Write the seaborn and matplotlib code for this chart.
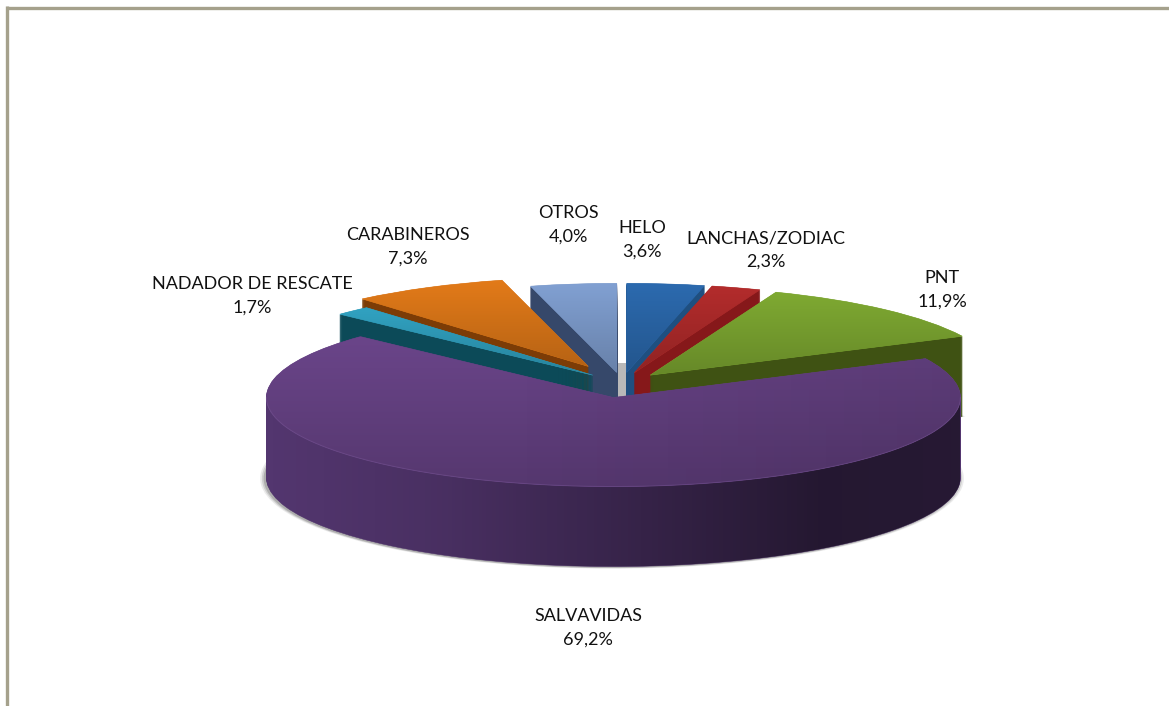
import numpy as np
import matplotlib
matplotlib.use("Agg")
import matplotlib.pyplot as plt
from matplotlib.patches import Polygon, Rectangle
from matplotlib.lines import Line2D
import seaborn as sns

# ---- data ----
categories = ["HELO", "LANCHAS/ZODIAC", "PNT", "SALVAVIDAS",
              "NADADOR DE RESCATE", "CARABINEROS", "OTROS"]
values = [3.6, 2.3, 11.9, 69.2, 1.7, 7.3, 4.0]
explode = [0.12, 0.12, 0.12, 0.165, 0.122, 0.21, 0.12]
top_hex = ["#2a66a8", "#ac2a2a", "#7aa330", "#664284", "#2f9cba", "#da7618", "#7c9aca"]
side_hex = ["#1f4f80", "#86181a", "#3f5213", "#53366f", "#0c4a58", "#7c3c06", "#36486a"]
label_px = [(642, 240), (766, 250), (942, 290), (588, 628), (252.5, 296), (408, 247), (568, 225)]

sns.set_theme(style="white")
plt.rcParams['font.family'] = ['Lato', 'DejaVu Sans']
top_colors = sns.color_palette(top_hex)
side_colors = sns.color_palette(side_hex)

W, H = 1169, 706
CX, CY, RX, RY = 622, 383, 347, 89     # pixel geometry of the squashed unit circle
DEPTH = 80 / RY
N = 80

fig = plt.figure(figsize=(W / 100, H / 100), dpi=100, facecolor="white")
ax = fig.add_axes([0, 0, 1, 1])


def pie(colors, z, dy=0.0, dx=0.0, radius=1.0, alpha=None):
    wedges, _ = ax.pie(values, explode=explode, startangle=90, counterclock=False,
                       colors=colors, center=(dx, -dy), radius=radius)
    for w in wedges:
        w.set_zorder(z)
        w.set_edgecolor(w.get_facecolor())
        w.set_linewidth(0.4)
        if alpha is not None:
            w.set_alpha(alpha)
            w.set_linewidth(0)
    return wedges


# soft shadow under the solid
for i, (grow, a) in enumerate([(1.014, 0.12), (1.009, 0.2), (1.004, 0.3)]):
    pie(["#606060"] * 7, 2 + i, dy=DEPTH + 0.01, dx=-0.004, radius=grow, alpha=a)

# extruded layers, back to front
for k in range(N, 0, -1):
    pie(side_colors, 10 + (N - k), dy=DEPTH * k / N)

# top faces
tops = pie(top_colors, 200)
for w, c in zip(tops, top_colors):
    bb = w.get_path().get_extents(w.get_transform() - ax.transData)
    v = np.linspace(0, 1, 64)[:, None]
    rgb = np.array(c)[None, None, :] * (1.04 - 0.2 * v[..., None])
    img = np.clip(rgb, 0, 1)
    im = ax.imshow(img, extent=(bb.x0, bb.x1, bb.y0, bb.y1), origin="upper",
                   aspect="auto", zorder=201, interpolation="bilinear")
    im.set_clip_path(w)

# purple slice: slight darkening to the right of its top face
purple = tops[categories.index("SALVAVIDAS")]
px, py = purple.center
xs = np.linspace(0, 1, 256)
ov = np.zeros((1, 256, 4))
ov[0, :, 3] = np.clip((xs - 0.35) / 0.65, 0, 1) * 0.1
im = ax.imshow(ov, extent=(px - 1, px + 1, py - 1, py + 0.6), aspect="auto",
               zorder=202, interpolation="bilinear")
im.set_clip_path(purple)

# purple rim: horizontal shading
th = np.radians(np.linspace(180, 360, 200))
arc_x, arc_y = px + np.cos(th), py + np.sin(th)
rim = Polygon(np.r_[np.c_[arc_x, arc_y], np.c_[arc_x[::-1], arc_y[::-1] - DEPTH]],
              closed=True, transform=ax.transData)
shade = np.interp(xs, [0, 0.25, 0.55, 0.8, 1.0], [0.0, 0.12, 0.36, 0.56, 0.54])
ov2 = np.zeros((1, 256, 4))
ov2[0, :, 3] = shade
im = ax.imshow(ov2, extent=(px - 1, px + 1, py - 1 - DEPTH, py), aspect="auto",
               zorder=150, interpolation="bilinear")
im.set_clip_path(rim)

# thin highlight where top face meets rim
ax.plot(arc_x, arc_y, color="#8a68a8", lw=0.8, alpha=0.25, zorder=203)

# grey floor seen between OTROS and HELO
otros = tops[categories.index("OTROS")]
helo = tops[categories.index("HELO")]
ax.add_patch(Rectangle((otros.center[0], helo.center[1] - 0.5),
                       helo.center[0] - otros.center[0], 0.61,
                       facecolor="#b9b9b9", edgecolor="none", zorder=5))

ax.set_aspect("auto")
ax.set_xlim(-CX / RX, (W - CX) / RX)
ax.set_ylim((CY - H) / RY, CY / RY)
ax.axis("off")

# labels
for name, val, (lx, ly) in zip(categories, values, label_px):
    txt = f"{name}\n{val:.1f}%".replace(".", ",")
    fig.text(lx / W, 1 - ly / H, txt, ha="center", va="center", fontsize=13,
             color="#111111", linespacing=1.6)

# tan frame: top and left only
frame = "#a5a18c"
fig.add_artist(Line2D([5.5 / W, 1], [1 - 7.5 / H, 1 - 7.5 / H], color=frame, lw=2.4,
                      solid_capstyle="butt"))
fig.add_artist(Line2D([6.5 / W, 6.5 / W], [0, 1 - 6 / H], color=frame, lw=2.4,
                      solid_capstyle="butt"))

fig.savefig("out.png", dpi=100, facecolor="white")
